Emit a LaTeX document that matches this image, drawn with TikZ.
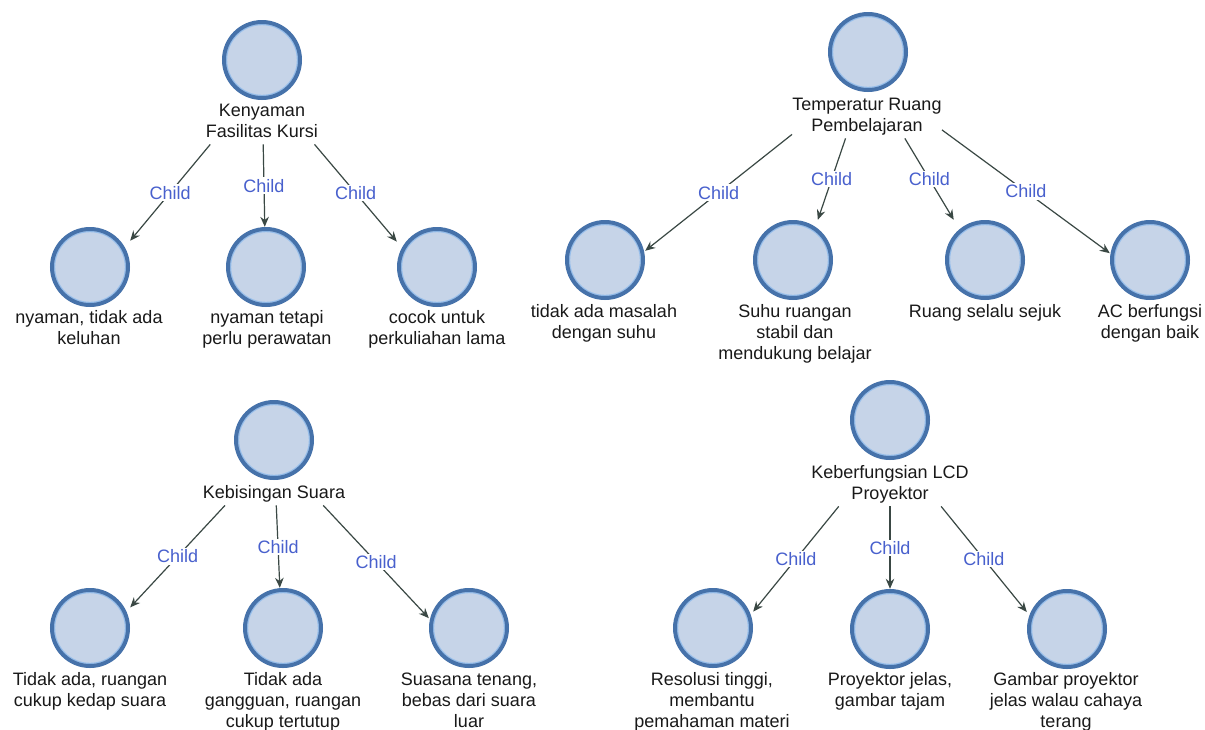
\documentclass[tikz,border=0pt]{standalone}
\usepackage{fontspec}
\setmainfont{Liberation Sans}
\usetikzlibrary{fit,arrows.meta}
\definecolor{ringc}{RGB}{70,114,170}
\definecolor{innerc}{RGB}{150,190,235}
\definecolor{fillc}{RGB}{198,212,232}
\definecolor{edgec}{RGB}{58,72,68}
\definecolor{childc}{RGB}{72,96,205}
\newcommand{\ls}{\vrule height 14.7pt depth 6.3pt width 0pt}
\begin{document}
\begin{tikzpicture}[x=1pt,y=-1pt,
  bub/.style={circle, minimum size=76pt, inner sep=0pt, fill=fillc, draw=ringc, line width=4pt,
    path picture={\draw[innerc, line width=1.2pt] (path picture bounding box.center) circle (35.4pt);}},
  lbl/.style={anchor=north, align=center, inner sep=0pt, font=\fontsize{18}{21}\selectfont, text=black!90},
  boxed/.style={inner sep=0pt, draw=none},
  edge/.style={draw=edgec, line width=1.2pt, -{Stealth[length=10pt,width=8.5pt]}},
  clab/.style={fill=white, inner sep=1.5pt, text=childc, font=\fontsize{18}{21}\selectfont}
]
\useasboundingbox[fill=white] (0,0) rectangle (1205,729);

% ---------- Group 1 ----------
\node[bub] (r1) at (262,60) {};
\node[lbl] (l1) at (262,101.8) {\ls Kenyaman\\Fasilitas Kursi\ls};
\node[boxed, fit=(r1)(l1)] (R1) {};

\node[bub] (a1) at (90,267) {};
\node[lbl] (la1) at (89,308.8) {\ls nyaman, tidak ada\\keluhan\ls};
\node[boxed, fit=(a1)(la1.south)] (A1) {};
\node[bub] (a2) at (266,267) {};
\node[lbl] (la2) at (267,308.8) {\ls nyaman tetapi\\perlu perawatan\ls};
\node[boxed, fit=(a2)(la2.south)] (A2) {};
\node[bub] (a3) at (437,267) {};
\node[lbl] (la3) at (437,308.8) {\ls cocok untuk\\perkuliahan lama\ls};
\node[boxed, fit=(a3)(la3.south)] (A3) {};

\draw[edge] (R1) -- node[clab]{Child} (A1);
\draw[edge] (R1) -- node[clab]{Child} (A2);
\draw[edge] (R1) -- node[clab]{Child} (A3);

% ---------- Group 2 ----------
\node[bub] (r2) at (868,52) {};
\node[lbl] (l2) at (867,95.8) {\ls Temperatur Ruang\\Pembelajaran\ls};
\node[boxed, fit=(r2)(l2)] (R2) {};

\node[bub] (b1) at (605,260) {};
\node[lbl] (lb1) at (604,302.8) {\ls tidak ada masalah\\dengan suhu\ls};
\node[boxed, fit=(b1)(lb1.south)] (B1) {};
\node[bub] (b2) at (793,260) {};
\node[lbl] (lb2) at (795,302.8) {\ls Suhu ruangan\\stabil dan\\mendukung belajar\ls};
\node[boxed, fit=(b2)(lb2.south)] (B2) {};
\node[bub] (b3) at (985,260) {};
\node[lbl] (lb3) at (985,302.8) {\ls Ruang selalu sejuk\ls};
\node[boxed, fit=(b3)(lb3.south)] (B3) {};
\node[bub] (b4) at (1150,260) {};
\node[lbl] (lb4) at (1150,302.8) {\ls AC berfungsi\\dengan baik\ls};
\node[boxed, fit=(b4)(lb4.south)] (B4) {};

\draw[edge] (R2) -- node[clab]{Child} (B1);
\draw[edge] (R2) -- node[clab]{Child} (B2);
\draw[edge] (R2) -- node[clab]{Child} (B3);
\draw[edge] (R2) -- node[clab]{Child} (B4);

% ---------- Group 3 ----------
\node[bub] (r3) at (274,440) {};
\node[lbl] (l3) at (274,483.8) {\ls Kebisingan Suara\ls};
\node[boxed, fit=(r3)(l3)] (R3) {};

\node[bub] (c1) at (90,628) {};
\node[lbl] (lc1) at (90,670.8) {\ls Tidak ada, ruangan\\cukup kedap suara\ls};
\node[boxed, fit=(c1)(lc1.south)] (C1) {};
\node[bub] (c2) at (283,628) {};
\node[lbl] (lc2) at (283,670.8) {\ls Tidak ada\\gangguan, ruangan\\cukup tertutup\ls};
\node[boxed, fit=(c2)(lc2.south)] (C2) {};
\node[bub] (c3) at (469,628) {};
\node[lbl] (lc3) at (469,670.8) {\ls Suasana tenang,\\bebas dari suara\\luar\ls};
\node[boxed, fit=(c3)(lc3.south)] (C3) {};

\draw[edge] (R3) -- node[clab]{Child} (C1);
\draw[edge] (R3) -- node[clab]{Child} (C2);
\draw[edge] (R3) -- node[clab]{Child} (C3);

% ---------- Group 4 ----------
\node[bub] (r4) at (890,420) {};
\node[lbl] (l4) at (890,463.8) {\ls Keberfungsian LCD\\Proyektor\ls};
\node[boxed, fit=(r4)(l4)] (R4) {};

\node[bub] (d1) at (713,628) {};
\node[lbl] (ld1) at (712,670.8) {\ls Resolusi tinggi,\\membantu\\pemahaman materi\ls};
\node[boxed, fit=(d1)(ld1.south)] (D1) {};
\node[bub] (d2) at (890,629) {};
\node[lbl] (ld2) at (890,670.8) {\ls Proyektor jelas,\\gambar tajam\ls};
\node[boxed, fit=(d2)(ld2.south)] (D2) {};
\node[bub] (d3) at (1067,629) {};
\node[lbl] (ld3) at (1066,670.8) {\ls Gambar proyektor\\jelas walau cahaya\\terang\ls};
\node[boxed, fit=(d3)(ld3.south)] (D3) {};

\draw[edge] (R4) -- node[clab]{Child} (D1);
\draw[edge] (R4) -- node[clab]{Child} (D2);
\draw[edge] (R4) -- node[clab]{Child} (D3);
\end{tikzpicture}
\end{document}
